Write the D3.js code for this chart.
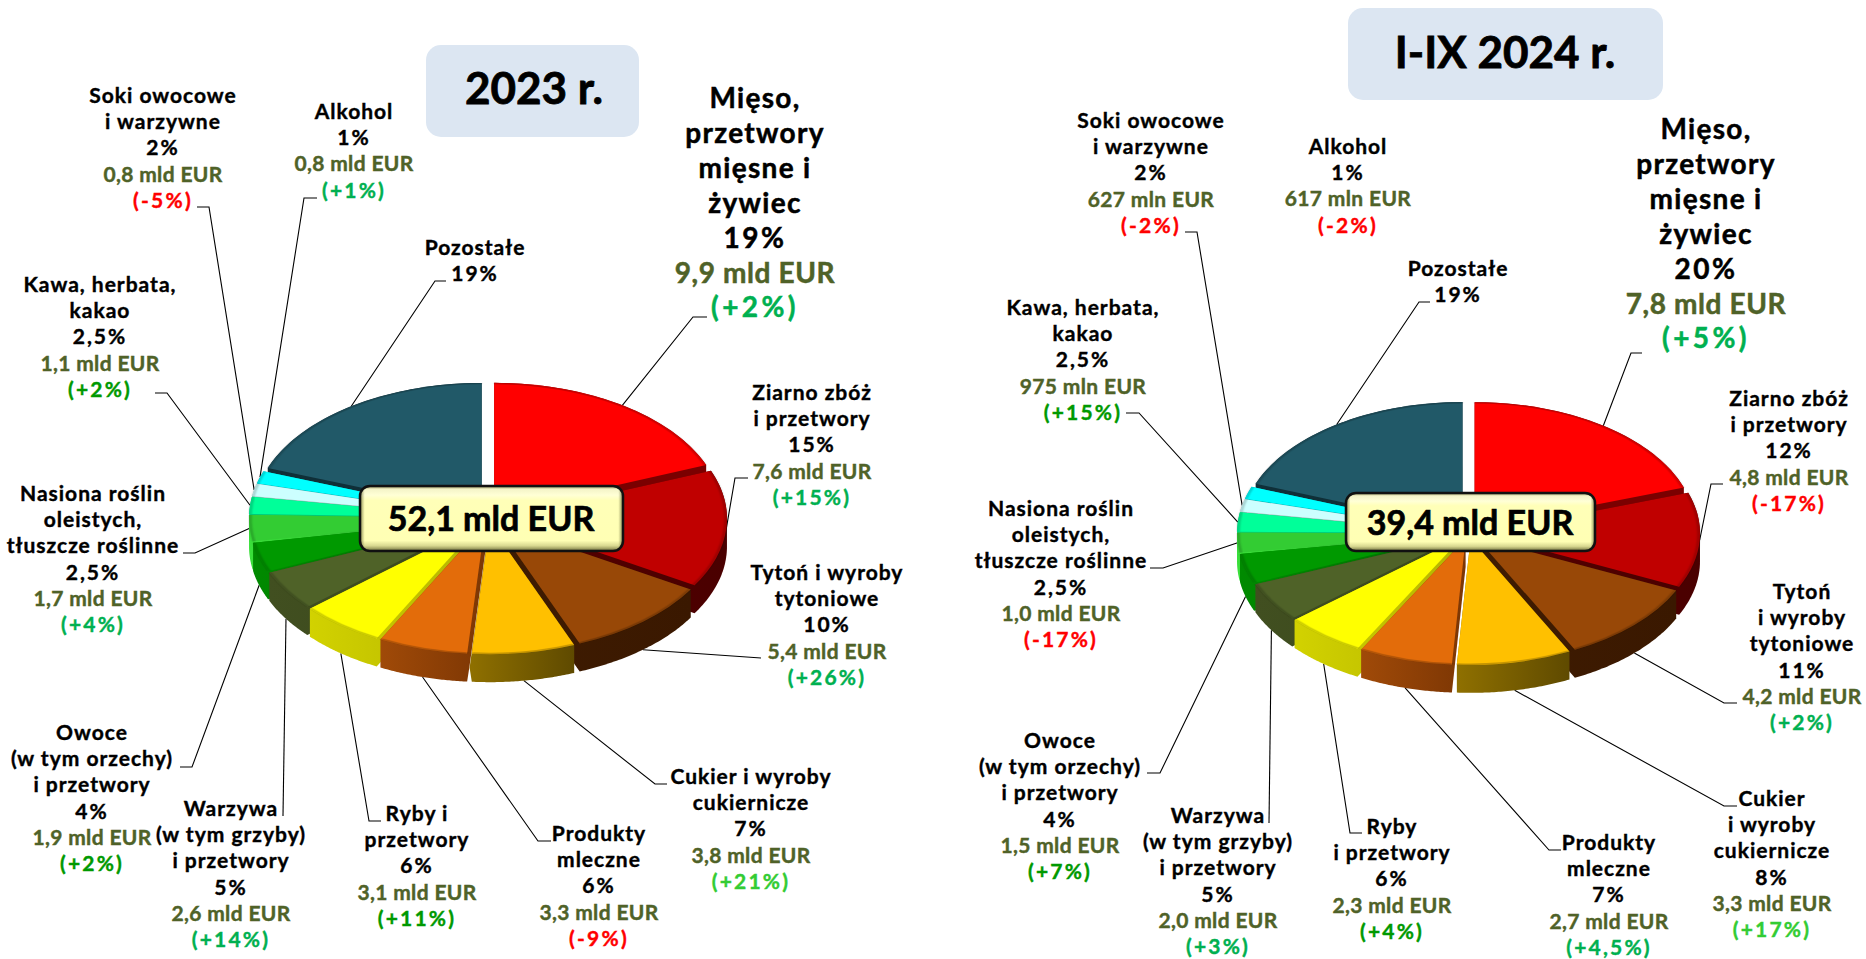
<!DOCTYPE html>
<html lang="pl">
<head>
<meta charset="utf-8">
<title>Struktura eksportu</title>
<script src="https://cdn.jsdelivr.net/npm/d3@7"></script>
<style>
html,body{margin:0;padding:0;background:#fff;overflow:hidden}
text{font-family:Lato,"Noto Sans",sans-serif;font-weight:700;text-anchor:middle}
</style>
</head>
<body>
<svg id="chart" width="1866" height="959" viewBox="0 0 1866 959"></svg>
<script>
// ---------- data (clockwise from 12 o'clock) ----------
const categories = ["Mięso","Ziarno","Tytoń","Cukier","Produkty","Ryby","Warzywa","Owoce","Nasiona","Kawa","Soki","Alkohol","Pozostałe"];

const titleA = "2023 r.";
const totalA = "52,1 mld EUR";
const namesA = [["Mięso,","przetwory","mięsne i","żywiec"],["Ziarno zbóż","i przetwory"],["Tytoń i wyroby","tytoniowe"],["Cukier i wyroby","cukiernicze"],["Produkty","mleczne"],["Ryby i","przetwory"],["Warzywa","(w tym grzyby)","i przetwory"],["Owoce","(w tym orzechy)","i przetwory"],["Nasiona roślin","oleistych,","tłuszcze roślinne"],["Kawa, herbata,","kakao"],["Soki owocowe","i warzywne"],["Alkohol"],["Pozostałe"]];
const valuesA = [9.9,7.6,5.4,3.8,3.3,3.1,2.6,1.9,1.7,1.1,0.8,0.8,10.1];
const sharesA = ["19%","15%","10%","7%","6%","6%","5%","4%","2,5%","2,5%","2%","1%","19%"];
const amountsA = ["9,9 mld EUR","7,6 mld EUR","5,4 mld EUR","3,8 mld EUR","3,3 mld EUR","3,1 mld EUR","2,6 mld EUR","1,9 mld EUR","1,7 mld EUR","1,1 mld EUR","0,8 mld EUR","0,8 mld EUR",null];
const changesA = ["(+2%)","(+15%)","(+26%)","(+21%)","(-9%)","(+11%)","(+14%)","(+2%)","(+4%)","(+2%)","(-5%)","(+1%)",null];

const titleB = "I-IX 2024 r.";
const totalB = "39,4 mld EUR";
const namesB = [["Mięso,","przetwory","mięsne i","żywiec"],["Ziarno zbóż","i przetwory"],["Tytoń","i wyroby","tytoniowe"],["Cukier","i wyroby","cukiernicze"],["Produkty","mleczne"],["Ryby","i przetwory"],["Warzywa","(w tym grzyby)","i przetwory"],["Owoce","(w tym orzechy)","i przetwory"],["Nasiona roślin","oleistych,","tłuszcze roślinne"],["Kawa, herbata,","kakao"],["Soki owocowe","i warzywne"],["Alkohol"],["Pozostałe"]];
const valuesB = [7.8,4.8,4.2,3.3,2.7,2.3,2.0,1.5,1.0,0.975,0.627,0.617,7.6];
const sharesB = ["20%","12%","11%","8%","7%","6%","5%","4%","2,5%","2,5%","2%","1%","19%"];
const amountsB = ["7,8 mld EUR","4,8 mld EUR","4,2 mld EUR","3,3 mld EUR","2,7 mld EUR","2,3 mld EUR","2,0 mld EUR","1,5 mld EUR","1,0 mld EUR","975 mln EUR","627 mln EUR","617 mln EUR",null];
const changesB = ["(+5%)","(-17%)","(+2%)","(+17%)","(+4,5%)","(+4%)","(+3%)","(+7%)","(-17%)","(+15%)","(-2%)","(-2%)",null];

// ---------- styles ----------
const topColors  = ["#ff0000","#c00000","#984807","#ffc000","#e36c0a","#ffff00","#4f6228","#009900","#33cc33","#00ff99","#ccffff","#00ffff","#215968"];
const wallLeft   = ["#7a0000","#560000","#3f1c02","#8f7000","#a04a08","#d2d200","#414f20","#008a00","#3adf3a","#00c878","#a9c4c4","#00b8b8","#0f2f38"];
const wallRight  = ["#7a0000","#4a0000","#3a1800","#5f4a00","#7c3604","#b4b400","#3a471c","#006e00","#27a027","#00c878","#9ab0b0","#00b8b8","#0f2f38"];
const changeColorsA = ["#00b050","#00b050","#00b050","#33cc33","#ff0000","#009900","#00b050","#009900","#00b050","#009900","#ff0000","#00b050",null];
const changeColorsB = ["#00b050","#ff0000","#00b050","#33cc33","#00b050","#009900","#00b050","#009900","#ff0000","#009900","#ff0000","#ff0000",null];
const nameColor = "#000", amountColor = "#4f6228";

// ---------- layout ----------
const layoutA = {
  pie:{cx:488,cy:518,r:228,tilt:0.57,explode:11,depth:28,apron:2.2},
  title:{x:426,y:45,w:213,h:92,tx:534,ty:104},
  total:{x:360,y:486,w:263,h:65,tx:491,ty:531},
  labelX:[755,812,827,751,599,417,231,92,93,100,163,354,475],
  labelY:[108,400,580,784,841,821,816,740,501,292,103,119,255],
  leaderFrom:[[[707,317],[693,317]],[[748,478],[735,478]],[[761,658]],[[667,784],[655,784]],[[551,841],[538,841]],[[381,821],[369,821]],[[283,816]],[[180,767],[192,767]],[[183,553],[195,553]],[[155,393],[167,393]],[[197,207],[209,207]],[[317,198],[304,198]],[[446,281],[435,281]]]
};
const layoutB = {
  pie:{cx:1468.5,cy:533,r:221,tilt:0.57,explode:10.5,depth:28,apron:0},
  title:{x:1348,y:8,w:315,h:92,tx:1505,ty:68},
  total:{x:1346,y:493,w:249,h:58,tx:1470,ty:535},
  labelX:[1706,1789,1802,1772,1609,1392,1218,1060,1061,1083,1151,1348,1458],
  labelY:[139,406,599,806,850,834,823,748,516,315,128,154,276],
  leaderFrom:[[[1642,353],[1631,353]],[[1723,484],[1711,484]],[[1737,703],[1724,703]],[[1737,806],[1724,806]],[[1561,850],[1549,850]],[[1362,833],[1350,833]],[[1269,823]],[[1147,773],[1160,773]],[[1150,568],[1163,568]],[[1126,413],[1139,413]],[[1185,232],[1197,232]],null,[[1430,302],[1419,302]]]
};
const smallSize = 21, smallStep = 26.2, bigSize = 28, bigStep = 34.9;
const trackSmall = {name:1.0,share:2.0,amount:0.35,change:2.2};
const trackBig   = {name:1.3,share:2.6,amount:0.6,change:3.4};

// ---------- drawing ----------
const svg = d3.select("#chart");
const defs = svg.append("defs");
defs.append("filter").attr("id","soft").attr("x","-10%").attr("y","-10%").attr("width","120%").attr("height","120%")
  .append("feGaussianBlur").attr("stdDeviation",1.1);

categories.forEach((c,i)=>{
  const g = defs.append("linearGradient").attr("id","wall"+i).attr("x1",0).attr("x2",1).attr("y1",0).attr("y2",0);
  g.append("stop").attr("offset",0).attr("stop-color",wallLeft[i]);
  g.append("stop").attr("offset",1).attr("stop-color",wallRight[i]);
});
const gv = defs.append("linearGradient").attr("id","boxV").attr("x1",0).attr("x2",0).attr("y1",0).attr("y2",1);
[[0,"#8f8f58"],[0.05,"#f4f4c8"],[0.14,"#ffffd6"],[0.22,"#ffffb8"],[0.84,"#ffffb4"],[0.92,"#d8d890"],[1,"#6f6f3c"]]
  .forEach(s=>gv.append("stop").attr("offset",s[0]).attr("stop-color",s[1]));
const gh = defs.append("linearGradient").attr("id","boxH").attr("x1",0).attr("x2",1).attr("y1",0).attr("y2",0);
[[0,"#6f6f3c",0.8],[0.018,"#6f6f3c",0],[0.982,"#6f6f3c",0],[1,"#6f6f3c",0.8]]
  .forEach(s=>gh.append("stop").attr("offset",s[0]).attr("stop-color",s[1]).attr("stop-opacity",s[2]));

function drawChart(title,total,names,values,shares,amounts,changes,changeColors,layout){
  const {cx,cy,r,tilt,explode,depth,apron} = layout.pie;
  const slices = d3.pie().sort(null).value(d=>d)(values)
    .map((s,i)=>{
      const mid=(s.startAngle+s.endAngle)/2;
      return {...s,i,mid,ex:explode*Math.sin(mid),ey:-explode*Math.cos(mid)*tilt};
    });
  const project=(s,a,rad)=>[cx+s.ex+rad*Math.sin(a),cy+s.ey-rad*Math.cos(a)*tilt];

  // leader lines, ending on the pie rim at each slice's mid angle
  const line=d3.line();
  svg.append("g").selectAll("path")
    .data(slices.filter(s=>layout.leaderFrom[s.i]))
    .join("path")
    .attr("fill","none").attr("stroke","#000").attr("stroke-width",1.1)
    .attr("d",s=>{
      const p=project(s,s.mid,r);
      const front=-Math.cos(s.mid)>0.15;
      return line([...layout.leaderFrom[s.i],[p[0],p[1]+(front?depth:0)]]);
    });

  // slices, back to front
  const arc=d3.arc().innerRadius(0).outerRadius(r);
  const rim=d3.arc().innerRadius(r-2.5).outerRadius(r);
  const order=slices.slice().sort((a,b)=>d3.descending(Math.cos(a.mid),Math.cos(b.mid)));
  const pie=svg.append("g");
  order.forEach(s=>{
    const g=pie.append("g");
    const steps=d3.range(0,1.0001,0.02).map(t=>s.startAngle+t*(s.endAngle-s.startAngle));
    const outline=[[cx+s.ex,cy+s.ey],...steps.map(a=>project(s,a,r))];
    const lean=Math.cos(s.mid)<-0.5 ? -Math.sign(Math.sin(s.mid))*apron : 0;
    const all=[...outline,...outline.map(p=>[p[0]+lean,p[1]+depth*0.5]),...outline.map(p=>[p[0],p[1]+depth])];
    g.append("path").attr("d",line(d3.polygonHull(all))+"Z").attr("fill",`url(#wall${s.i})`);
    const t=`translate(${cx+s.ex},${cy+s.ey}) scale(1,${tilt})`;
    g.append("path").attr("transform",t).attr("d",arc(s)).attr("fill",topColors[s.i]);
    g.append("path").attr("transform",t).attr("d",rim(s)).attr("fill","#000").attr("opacity",0.22).attr("filter","url(#soft)");
  });

  // title box
  const tb=layout.title;
  svg.append("rect").attr("x",tb.x).attr("y",tb.y).attr("width",tb.w).attr("height",tb.h).attr("rx",15).attr("fill","#dce6f2");
  svg.append("text").attr("x",tb.tx).attr("y",tb.ty).attr("font-size",44).attr("fill","#000")
    .attr("stroke","#000").attr("stroke-width",0.8).text(title);

  // centre total box
  const bx=layout.total;
  svg.append("rect").attr("x",bx.x).attr("y",bx.y).attr("width",bx.w).attr("height",bx.h).attr("rx",10).attr("fill","url(#boxV)");
  svg.append("rect").attr("x",bx.x).attr("y",bx.y).attr("width",bx.w).attr("height",bx.h).attr("rx",10).attr("fill","url(#boxH)")
    .attr("stroke","#111").attr("stroke-width",2.5);
  svg.append("text").attr("x",bx.tx).attr("y",bx.ty).attr("font-size",34).attr("fill","#000")
    .attr("stroke","#000").attr("stroke-width",0.7).text(total);

  // labels
  slices.forEach(s=>{
    const i=s.i, big=i===0;
    const size=big?bigSize:smallSize, step=big?bigStep:smallStep, track=big?trackBig:trackSmall;
    const rows=[...names[i].map(t=>[t,nameColor,track.name]),[shares[i],nameColor,track.share]];
    if(amounts[i]) rows.push([amounts[i],amountColor,track.amount]);
    if(changes[i]) rows.push([changes[i],changeColors[i],track.change]);
    const g=svg.append("g");
    rows.forEach((row,k)=>{
      g.append("text").attr("x",layout.labelX[i]).attr("y",layout.labelY[i]+k*step)
        .attr("font-size",size).attr("fill",row[1]).attr("stroke",row[1]).attr("stroke-width",big?0.5:0.4)
        .attr("letter-spacing",row[2]).text(row[0]);
    });
  });
}

drawChart(titleA,totalA,namesA,valuesA,sharesA,amountsA,changesA,changeColorsA,layoutA);
drawChart(titleB,totalB,namesB,valuesB,sharesB,amountsB,changesB,changeColorsB,layoutB);
</script>
</body>
</html>
